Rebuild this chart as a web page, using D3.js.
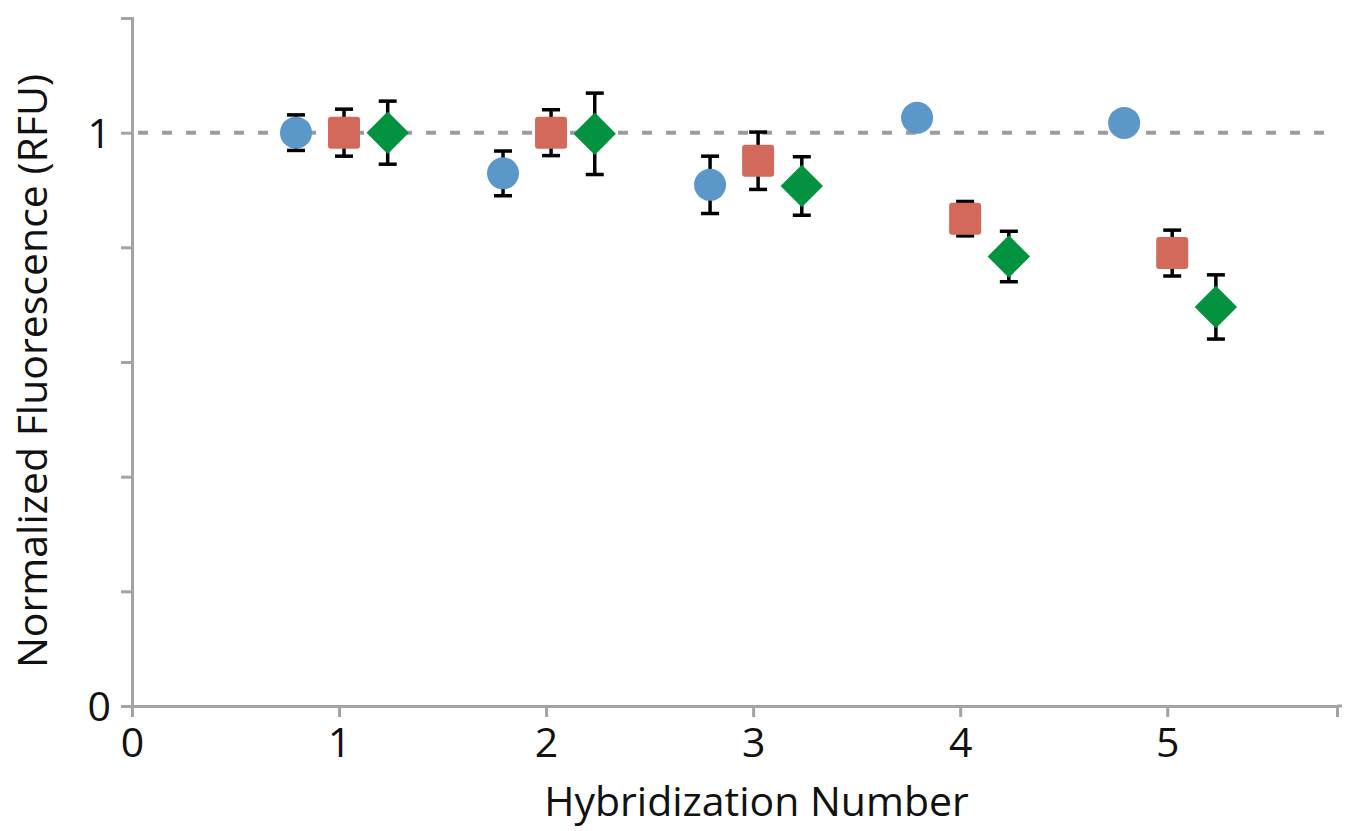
<!DOCTYPE html>
<html>
<head>
<meta charset="utf-8">
<script src="https://cdn.jsdelivr.net/npm/d3@7"></script>
<style>
    body { margin: 0; background: #fff; }
    svg text { font-family: 'Open Sans', 'Noto Sans', sans-serif; fill: #111; }
</style>
</head>
<body>
<div id="chart"></div>
<script>
// hybridization rounds on the x axis
const hybridization = [1, 2, 3, 4, 5];

// three probe series
const blueValues = [1.000, 0.929, 0.909, 1.026, 1.017];
const blueErrors = [0.031, 0.039, 0.050, 0.012, 0.012];

const redValues = [1.000, 1.000, 0.951, 0.850, 0.790];
const redErrors = [0.041, 0.040, 0.050, 0.030, 0.040];

const greenValues = [1.000, 0.998, 0.907, 0.784, 0.696];
const greenErrors = [0.055, 0.071, 0.051, 0.044, 0.056];

const yTicks = [0, 0.2, 0.4, 0.6, 0.8, 1, 1.2];
const xTicks = [0, 1, 2, 3, 4, 5];

const xLabel = 'Hybridization Number';
const yLabel = 'Normalized Fluorescence (RFU)';

const W = 1345, H = 831;
const margin = { top: 18, right: 8, bottom: 125, left: 132 };

const series = [
    { name: 'blue', values: blueValues, errors: blueErrors, shift: -0.208, color: '#5c97ca', shape: 'circle' },
    { name: 'red', values: redValues, errors: redErrors, shift: 0.024, color: '#d3695a', shape: 'square' },
    { name: 'green', values: greenValues, errors: greenErrors, shift: 0.235, color: '#03923f', shape: 'diamond' }
];

const svg = d3.select('#chart').append('svg')
    .attr('width', W)
    .attr('height', H);

const xScale = d3.scaleLinear().domain([0, 5.82]).range([margin.left, W - margin.right]);
const yScale = d3.scaleLinear().domain([0, 1.2]).range([H - margin.bottom, margin.top]);

const axisColor = '#a3a3a3';

// y axis
let yAxis = d3.axisLeft(yScale).tickValues(yTicks).tickSize(11).tickSizeOuter(11)
    .tickPadding(10)
    .tickFormat(function (d) { return (d === 0 || d === 1) ? d : ''; });

let gy = svg.append('g').attr('class', 'yaxis')
    .attr('transform', 'translate(' + margin.left + ',0)')
    .call(yAxis);

// x axis
let xAxis = d3.axisBottom(xScale).tickValues(xTicks).tickSize(11).tickSizeOuter(11)
    .tickPadding(10)
    .tickFormat(d3.format('d'));

let gx = svg.append('g').attr('class', 'xaxis')
    .attr('transform', 'translate(0,' + yScale(0) + ')')
    .call(xAxis);

[gx, gy].forEach(function (g) {
    g.selectAll('.domain, .tick line')
        .attr('stroke', axisColor)
        .attr('stroke-width', 3);
    g.selectAll('text')
        .attr('fill', '#111')
        .style('font-size', '41px');
});
gy.selectAll('text').attr('dy', '0.36em');
gx.selectAll('text').attr('dy', '0.72em');

// x axis line runs a little past the last tick
svg.append('line')
    .attr('x1', xScale.range()[1]).attr('x2', xScale.range()[1] + 5)
    .attr('y1', yScale(0)).attr('y2', yScale(0))
    .attr('stroke', axisColor).attr('stroke-width', 3);

// reference line at 1
svg.append('line')
    .attr('x1', margin.left + 6).attr('x2', xScale(5.77))
    .attr('y1', yScale(1)).attr('y2', yScale(1))
    .attr('stroke', '#9c9c9c')
    .attr('stroke-width', 4)
    .attr('stroke-dasharray', '10,14');

// axis titles
svg.append('text')
    .attr('x', (xScale(0) + xScale(5.82)) / 2 + 22)
    .attr('y', 816)
    .attr('text-anchor', 'middle')
    .style('font-size', '41px')
    .text(xLabel);

svg.append('text')
    .attr('transform', 'translate(47,' + 371 + ') rotate(-90)')
    .attr('text-anchor', 'middle')
    .style('font-size', '41px')
    .text(yLabel);

// points: error bars first, markers on top
let plot = svg.append('g').attr('class', 'points');

series.forEach(function (s) {
    let pts = hybridization.map(function (h, i) {
        return { x: h + s.shift, y: s.values[i], e: s.errors[i] };
    });

    let g = plot.append('g').attr('class', 'series-' + s.name);

    let err = g.selectAll('.err').data(pts).enter().append('g').classed('err', true)
        .attr('stroke', '#000').attr('stroke-width', 3.5);

    err.append('line')
        .attr('x1', function (d) { return xScale(d.x); })
        .attr('x2', function (d) { return xScale(d.x); })
        .attr('y1', function (d) { return yScale(d.y + d.e); })
        .attr('y2', function (d) { return yScale(d.y - d.e); });
    err.append('line')
        .attr('x1', function (d) { return xScale(d.x) - 9; })
        .attr('x2', function (d) { return xScale(d.x) + 9; })
        .attr('y1', function (d) { return yScale(d.y + d.e); })
        .attr('y2', function (d) { return yScale(d.y + d.e); });
    err.append('line')
        .attr('x1', function (d) { return xScale(d.x) - 9; })
        .attr('x2', function (d) { return xScale(d.x) + 9; })
        .attr('y1', function (d) { return yScale(d.y - d.e); })
        .attr('y2', function (d) { return yScale(d.y - d.e); });

    if (s.shape === 'circle') {
        g.selectAll('.mark').data(pts).enter().append('circle').classed('mark', true)
            .attr('cx', function (d) { return xScale(d.x); })
            .attr('cy', function (d) { return yScale(d.y); })
            .attr('r', 16)
            .attr('fill', s.color);
    } else if (s.shape === 'square') {
        g.selectAll('.mark').data(pts).enter().append('rect').classed('mark', true)
            .attr('x', function (d) { return xScale(d.x) - 16; })
            .attr('y', function (d) { return yScale(d.y) - 16; })
            .attr('width', 32).attr('height', 32)
            .attr('rx', 3)
            .attr('fill', s.color);
    } else {
        g.selectAll('.mark').data(pts).enter().append('rect').classed('mark', true)
            .attr('x', -15).attr('y', -15)
            .attr('width', 30).attr('height', 30)
            .attr('transform', function (d) {
                return 'translate(' + xScale(d.x) + ',' + yScale(d.y) + ') rotate(45)';
            })
            .attr('fill', s.color);
    }
});
</script>
</body>
</html>
